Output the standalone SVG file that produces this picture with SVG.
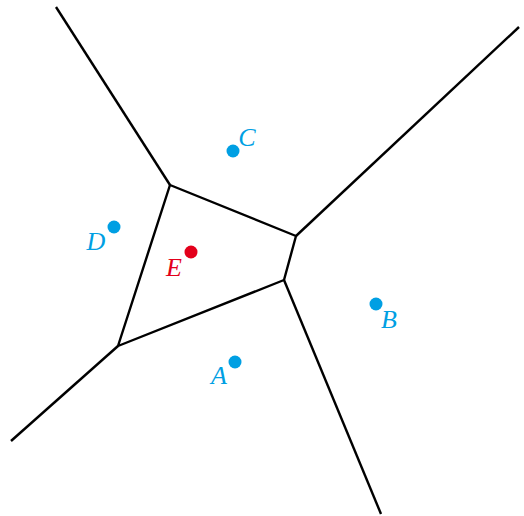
<svg xmlns="http://www.w3.org/2000/svg" width="524" height="516" viewBox="0 0 524 516">
<style>
.e{stroke:#000;stroke-width:2.4;fill:none;stroke-linejoin:round}
.b{fill:#009fe3}
.r{fill:#e3001b}
text{font-family:"Liberation Serif",serif;font-style:italic;font-size:26px;text-anchor:middle}
</style>
<rect width="524" height="516" fill="#fff"/>
<g id="connectors">
<polygon class="e" points="170,185 296,236 284,280 118,346"/>
<line class="e" x1="170" y1="185" x2="56" y2="7"/>
<line class="e" x1="296" y1="236" x2="519" y2="27"/>
<line class="e" x1="284" y1="280" x2="381" y2="514"/>
<line class="e" x1="118" y1="346" x2="11" y2="441"/>
</g>
<g id="C"><circle class="b" cx="233" cy="151" r="6.5"/><text class="b" x="247" y="146">C</text></g>
<g id="D"><circle class="b" cx="114" cy="227" r="6.5"/><text class="b" x="96" y="250">D</text></g>
<g id="E"><circle class="r" cx="191" cy="252" r="6.5"/><text class="r" x="174" y="276">E</text></g>
<g id="B"><circle class="b" cx="376" cy="304" r="6.5"/><text class="b" x="389" y="328">B</text></g>
<g id="A"><circle class="b" cx="235" cy="362" r="6.5"/><text class="b" x="219" y="384">A</text></g>
</svg>
